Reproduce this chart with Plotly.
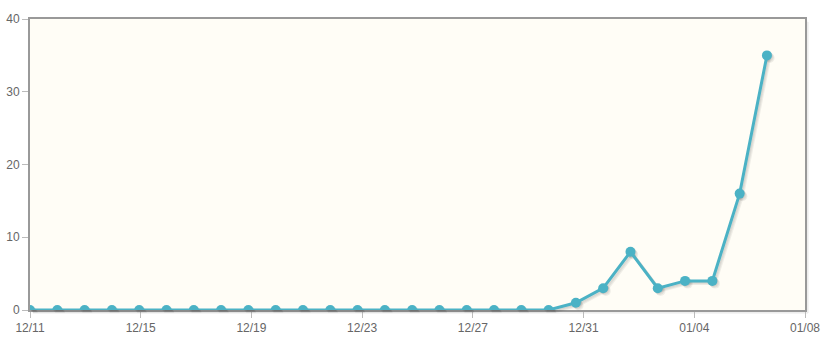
import plotly.graph_objects as go

# Data
timestamps = [
    "2023-12-11 00:00", "2023-12-11 23:40", "2023-12-12 23:20", "2023-12-13 23:00",
    "2023-12-14 22:40", "2023-12-15 22:20", "2023-12-16 22:00", "2023-12-17 21:40",
    "2023-12-18 21:20", "2023-12-19 21:00", "2023-12-20 20:40", "2023-12-21 20:20",
    "2023-12-22 20:00", "2023-12-23 19:40", "2023-12-24 19:20", "2023-12-25 19:00",
    "2023-12-26 18:40", "2023-12-27 18:20", "2023-12-28 18:00", "2023-12-29 17:40",
    "2023-12-30 17:20", "2023-12-31 17:00", "2024-01-01 16:40", "2024-01-02 16:20",
    "2024-01-03 16:00", "2024-01-04 15:40", "2024-01-05 15:20", "2024-01-06 15:00",
]
values = [0, 0, 0, 0, 0, 0, 0, 0, 0, 0, 0, 0, 0, 0, 0, 0, 0, 0, 0, 0,
          1, 3, 8, 3, 4, 4, 16, 35]

tick_dates = ["2023-12-11", "2023-12-15", "2023-12-19", "2023-12-23",
              "2023-12-27", "2023-12-31", "2024-01-04", "2024-01-08"]
tick_labels = ["12/11", "12/15", "12/19", "12/23", "12/27", "12/31", "01/04", "01/08"]
y_ticks = [0, 10, 20, 30, 40]

x_range = ["2023-12-11", "2024-01-08"]
y_range = [0, 40]

line_color = "#4bb2c5"
bg_color = "#fffdf6"
font = dict(family="Liberation Sans, Arial, sans-serif", size=12, color="#666666")

# layout geometry (pixels)
W, H = 834, 353
ML, MR, MT, MB = 30, 26, 19, 40      # plot area 775 x 291 plus 3px shadow room
PW = W - ML - MR
PH = H - MT - MB
S = 3.0
main_xd = [0, 1 - S / PW]
main_yd = [S / PH, 1]

fig = go.Figure()

# plot-area background as a shape
fig.add_shape(type="rect", xref="paper", yref="paper",
              x0=main_xd[0], x1=main_xd[1], y0=main_yd[0], y1=main_yd[1],
              fillcolor=bg_color, line=dict(width=0), layer="below")

# border shadow on right and bottom
for off, a in [(1.5, 0.12), (3.0, 0.06)]:
    fig.add_shape(type="line", xref="paper", yref="paper",
                  x0=main_xd[1] + off / PW, x1=main_xd[1] + off / PW,
                  y0=main_yd[0] - off / PH, y1=1 - off / PH,
                  line=dict(color=f"rgba(0,0,0,{a})", width=1.5), layer="below")
    fig.add_shape(type="line", xref="paper", yref="paper",
                  x0=off / PW, x1=main_xd[1] + off / PW,
                  y0=main_yd[0] - off / PH, y1=main_yd[0] - off / PH,
                  line=dict(color=f"rgba(0,0,0,{a})", width=1.5), layer="below")

# invisible carrier trace so the visible axes (x / y) get drawn
fig.add_trace(go.Scatter(
    x=timestamps, y=values, mode="lines", opacity=0,
    line=dict(width=0), hoverinfo="skip", showlegend=False,
))

# soft drop-shadow of the series, drawn on offset hidden axes
shadow_offsets = [0.9, 1.8, 2.7]
for k, off in enumerate(shadow_offsets, start=2):
    fig.add_trace(go.Scatter(
        x=timestamps, y=values, mode="lines+markers",
        line=dict(color="rgba(0,0,0,0.06)", width=3),
        marker=dict(color="rgba(0,0,0,0.06)", size=10),
        xaxis=f"x{k}", yaxis=f"y{k}", hoverinfo="skip",
    ))
    fig.update_layout(**{
        f"xaxis{k}": dict(type="date", range=x_range, domain=[off / PW, 1 - (S - off) / PW],
                          visible=False, anchor=f"y{k}"),
        f"yaxis{k}": dict(range=y_range, domain=[(S - off) / PH, 1 - off / PH],
                          visible=False, anchor=f"x{k}"),
    })

# main series on hidden axes identical to the visible ones, drawn last (on top)
fig.add_trace(go.Scatter(
    x=timestamps, y=values, mode="lines+markers",
    line=dict(color=line_color, width=3),
    marker=dict(color=line_color, size=10),
    xaxis="x5", yaxis="y5",
    hoverinfo="x+y", cliponaxis=True,
))

axis_common = dict(showgrid=False, zeroline=False, automargin=False,
                   showline=True, mirror=True, linecolor="#999999", linewidth=2,
                   ticks="outside", ticklen=6, tickcolor="#bbbbbb", tickwidth=1,
                   tickfont=font)

fig.update_layout(
    width=W, height=H,
    margin=dict(l=ML, r=MR, t=MT, b=MB),
    paper_bgcolor="white",
    plot_bgcolor="rgba(0,0,0,0)",
    showlegend=False,
    font=font,
    xaxis=dict(type="date", range=x_range, domain=main_xd, anchor="y",
               tickmode="array", tickvals=tick_dates, ticktext=tick_labels,
               **axis_common),
    yaxis=dict(range=y_range, domain=main_yd, anchor="x",
               tickmode="array", tickvals=y_ticks, **axis_common),
    xaxis5=dict(type="date", range=x_range, domain=main_xd, anchor="y5", visible=False),
    yaxis5=dict(range=y_range, domain=main_yd, anchor="x5", visible=False),
)

fig.write_html("out.html")
